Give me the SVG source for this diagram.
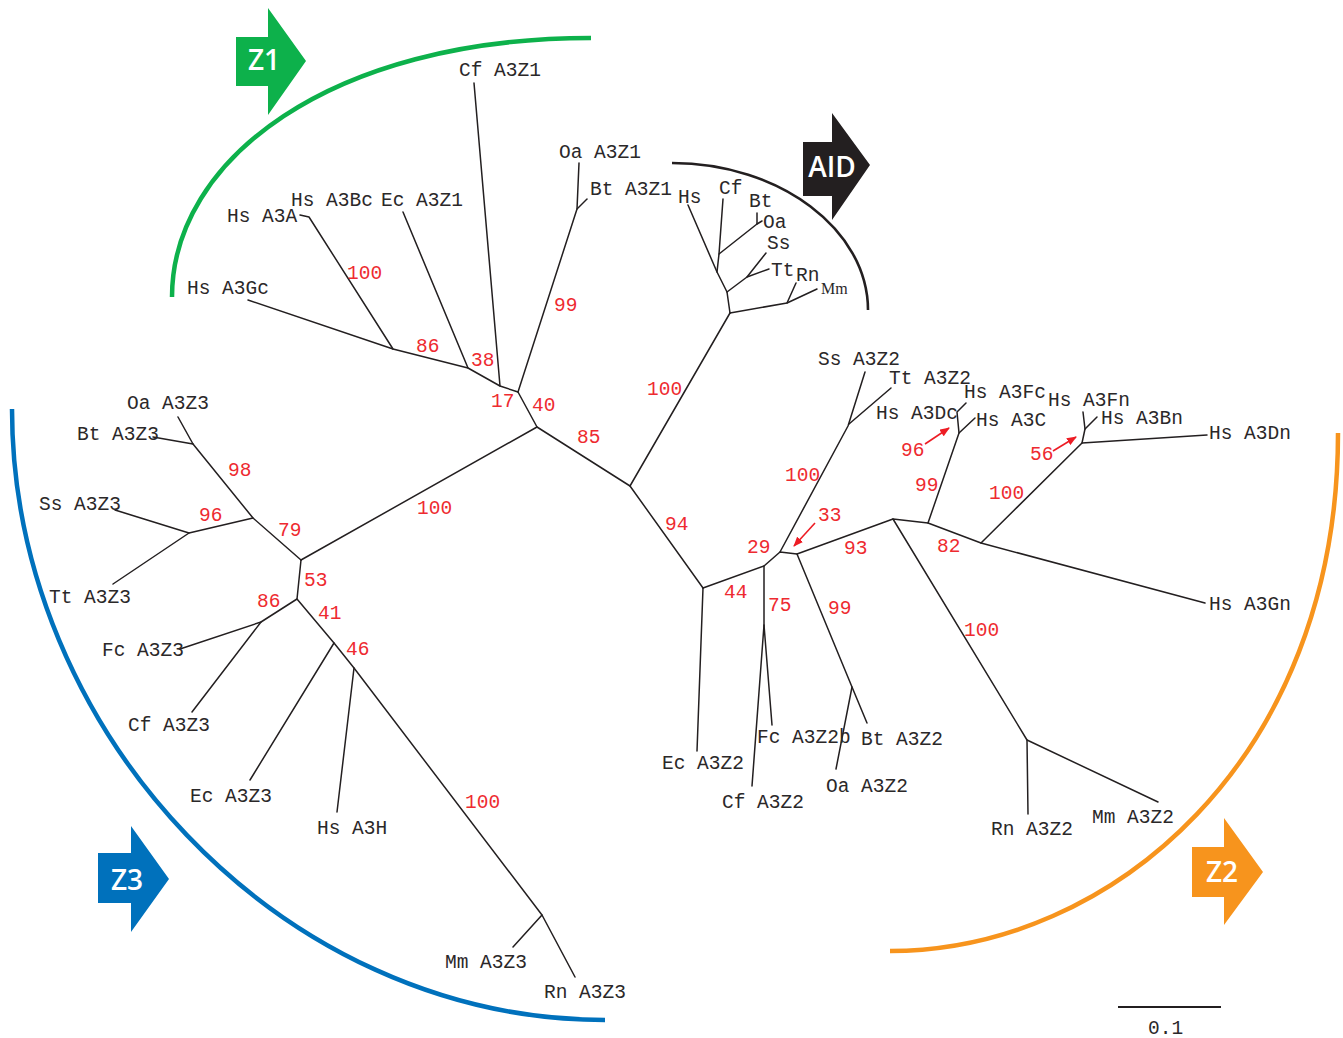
<svg xmlns="http://www.w3.org/2000/svg" width="1343" height="1038" viewBox="0 0 1343 1038">
<defs>
<style>
.br{fill:none;stroke:#231f20;stroke-width:1.5;stroke-linecap:round;stroke-linejoin:round}
.lb{font-family:"Liberation Mono",monospace;font-size:19.5px;fill:#2b2829}
.bs{font-family:"Liberation Mono",monospace;font-size:19.5px;fill:#ee2a30}
.zt{font-family:"Open Sans","Liberation Sans",sans-serif;font-size:28px;font-weight:600;fill:#ffffff;text-anchor:middle}
.arc{fill:none;stroke-width:4.5;stroke-linecap:butt}
.ra{stroke:#ed1c24;stroke-width:1.6;fill:none;marker-end:url(#ah)}
</style>
<marker id="ah" viewBox="0 0 10 8" refX="9" refY="4" markerWidth="10" markerHeight="8" markerUnits="userSpaceOnUse" orient="auto">
<path d="M0,0 L10,4 L0,8 Z" fill="#ed1c24"/>
</marker>
</defs>
<rect width="1343" height="1038" fill="#ffffff"/>

<g id="group-arcs">
<path class="arc" stroke="#0db14b" d="M172,297 C172,160 330,38 591,38"/>
<path class="arc" stroke="#0071bc" d="M12,409 C12,730 280,1020 605,1020"/>
<path class="arc" stroke="#f7941d" d="M1338,433 C1338,760 1110,951 890,951"/>
<path fill="none" stroke="#231f20" stroke-width="2.6" d="M672,163 C780,163 868,230 868,310"/>
</g>

<g id="arrow-Z1">
<polygon fill="#0db14b" points="236,37 268,37 268,8 306,61 268,115 268,86 236,86"/>
<text class="zt" x="264" y="70">Z1</text>
</g>
<g id="arrow-Z3">
<polygon fill="#0071bc" points="98,853 131,853 131,826 169,879 131,932 131,903 98,903"/>
<text class="zt" x="127" y="890">Z3</text>
</g>
<g id="arrow-AID">
<polygon fill="#231f20" points="803,142 832,142 832,113 870,165 832,220 832,196 803,196"/>
<text class="zt" x="832" y="177">AID</text>
</g>
<g id="arrow-Z2">
<polygon fill="#f7941d" points="1192,847 1224,847 1224,818 1263,872 1224,925 1224,897 1192,897"/>
<text class="zt" x="1222" y="882">Z2</text>
</g>

<g id="connectors">
<path class="br" d="M537,427 L518,392 L500,386 L468,368 L393,349 L248,300"/>
<path class="br" d="M393,349 L309,217 L300,215"/>
<path class="br" d="M468,368 L403,212"/>
<path class="br" d="M500,386 L474,83"/>
<path class="br" d="M518,392 L577,209 L579,163"/>
<path class="br" d="M577,209 L587,199"/>
<path class="br" d="M301,560 L537,427 L630,486 L730,313"/>
<path class="br" d="M630,486 L703,588"/>
<path class="br" d="M730,313 L727,292 L717,272 L688,205"/>
<path class="br" d="M730,313 L787,303 L796,283"/>
<path class="br" d="M787,303 L817,289"/>
<path class="br" d="M727,292 L747,277 L766,253"/>
<path class="br" d="M747,277 L769,269"/>
<path class="br" d="M717,272 L719,254 L723,199"/>
<path class="br" d="M719,254 L757,224 L757,213"/>
<path class="br" d="M757,224 L762,221"/>
<path class="br" d="M703,588 L697,751"/>
<path class="br" d="M703,588 L764,566 L780,552 L797,554 L893,519 L928,523 L981,543 L1205,603"/>
<path class="br" d="M764,566 L764,625 L752,786"/>
<path class="br" d="M764,625 L772,725"/>
<path class="br" d="M780,552 L848,426 L865,372"/>
<path class="br" d="M849,424 L891,388"/>
<path class="br" d="M797,554 L852,687 L836,769"/>
<path class="br" d="M852,687 L867,723"/>
<path class="br" d="M893,519 L1027,740 L1028,814"/>
<path class="br" d="M1027,740 L1158,802"/>
<path class="br" d="M928,523 L959,433 L957,412 L966,403"/>
<path class="br" d="M959,433 L975,418"/>
<path class="br" d="M981,543 L1082,443 L1207,435"/>
<path class="br" d="M1082,443 L1085,429 L1083,412"/>
<path class="br" d="M1085,429 L1097,417"/>
<path class="br" d="M301,560 L253,518 L193,444 L178,417"/>
<path class="br" d="M193,444 L153,437"/>
<path class="br" d="M253,518 L189,533 L115,510"/>
<path class="br" d="M189,533 L113,584"/>
<path class="br" d="M301,560 L297,599 L261,622 L180,649"/>
<path class="br" d="M261,622 L192,712"/>
<path class="br" d="M297,599 L334,643 L250,780"/>
<path class="br" d="M334,643 L354,668 L337,812"/>
<path class="br" d="M354,668 L542,915 L513,947"/>
<path class="br" d="M542,915 L575,977"/>
<path class="ra" d="M815,523 L794,546"/>
<path class="ra" d="M925,444 L949,428"/>
<path class="ra" d="M1053,451 L1076,437"/>
<path d="M1118,1007 L1221,1007" stroke="#231f20" stroke-width="2"/>
</g>

<g id="leaf-labels">
<g id="n-cf-a3z1"><text class="lb" x="459" y="76">Cf A3Z1</text></g>
<g id="n-oa-a3z1"><text class="lb" x="559" y="158">Oa A3Z1</text></g>
<g id="n-bt-a3z1"><text class="lb" x="590" y="195">Bt A3Z1</text></g>
<g id="n-hs-a3bc"><text class="lb" x="291" y="206">Hs A3Bc</text></g>
<g id="n-ec-a3z1"><text class="lb" x="381" y="206">Ec A3Z1</text></g>
<g id="n-hs-a3a"><text class="lb" x="227" y="222">Hs A3A</text></g>
<g id="n-hs-a3gc"><text class="lb" x="187" y="294">Hs A3Gc</text></g>
<g id="n-aid-hs"><text class="lb" x="678" y="203">Hs</text></g>
<g id="n-aid-cf"><text class="lb" x="719" y="194">Cf</text></g>
<g id="n-aid-bt"><text class="lb" x="749" y="207">Bt</text></g>
<g id="n-aid-oa"><text class="lb" x="763" y="228">Oa</text></g>
<g id="n-aid-ss"><text class="lb" x="767" y="249">Ss</text></g>
<g id="n-aid-tt"><text class="lb" x="771" y="276">Tt</text></g>
<g id="n-aid-rn"><text class="lb" x="796" y="281">Rn</text></g>
<g id="n-aid-mm"><text x="821" y="294" font-family="Liberation Serif,serif" font-size="16" fill="#2b2829">Mm</text></g>
<g id="n-ss-a3z2"><text class="lb" x="818" y="365">Ss A3Z2</text></g>
<g id="n-tt-a3z2"><text class="lb" x="889" y="384">Tt A3Z2</text></g>
<g id="n-hs-a3dc"><text class="lb" x="876" y="419">Hs A3Dc</text></g>
<g id="n-hs-a3fc"><text class="lb" x="964" y="398">Hs A3Fc</text></g>
<g id="n-hs-a3c"><text class="lb" x="976" y="426">Hs A3C</text></g>
<g id="n-hs-a3fn"><text class="lb" x="1048" y="406">Hs A3Fn</text></g>
<g id="n-hs-a3bn"><text class="lb" x="1101" y="424">Hs A3Bn</text></g>
<g id="n-hs-a3dn"><text class="lb" x="1209" y="439">Hs A3Dn</text></g>
<g id="n-hs-a3gn"><text class="lb" x="1209" y="610">Hs A3Gn</text></g>
<g id="n-rn-a3z2"><text class="lb" x="991" y="835">Rn A3Z2</text></g>
<g id="n-mm-a3z2"><text class="lb" x="1092" y="823">Mm A3Z2</text></g>
<g id="n-bt-a3z2"><text class="lb" x="861" y="745">Bt A3Z2</text></g>
<g id="n-oa-a3z2"><text class="lb" x="826" y="792">Oa A3Z2</text></g>
<g id="n-fc-a3z2b"><text class="lb" x="757" y="743">Fc A3Z2b</text></g>
<g id="n-cf-a3z2"><text class="lb" x="722" y="808">Cf A3Z2</text></g>
<g id="n-ec-a3z2"><text class="lb" x="662" y="769">Ec A3Z2</text></g>
<g id="n-oa-a3z3"><text class="lb" x="127" y="409">Oa A3Z3</text></g>
<g id="n-bt-a3z3"><text class="lb" x="77" y="440">Bt A3Z3</text></g>
<g id="n-ss-a3z3"><text class="lb" x="39" y="510">Ss A3Z3</text></g>
<g id="n-tt-a3z3"><text class="lb" x="49" y="603">Tt A3Z3</text></g>
<g id="n-fc-a3z3"><text class="lb" x="102" y="656">Fc A3Z3</text></g>
<g id="n-cf-a3z3"><text class="lb" x="128" y="731">Cf A3Z3</text></g>
<g id="n-ec-a3z3"><text class="lb" x="190" y="802">Ec A3Z3</text></g>
<g id="n-hs-a3h"><text class="lb" x="317" y="834">Hs A3H</text></g>
<g id="n-mm-a3z3"><text class="lb" x="445" y="968">Mm A3Z3</text></g>
<g id="n-rn-a3z3"><text class="lb" x="544" y="998">Rn A3Z3</text></g>
<g id="scale-label"><text class="lb" x="1148" y="1034">0.1</text></g>
</g>

<g id="support-values">
<text class="bs" x="347" y="279">100</text>
<text class="bs" x="416" y="352">86</text>
<text class="bs" x="471" y="366">38</text>
<text class="bs" x="491" y="407">17</text>
<text class="bs" x="532" y="411">40</text>
<text class="bs" x="554" y="311">99</text>
<text class="bs" x="647" y="395">100</text>
<text class="bs" x="577" y="443">85</text>
<text class="bs" x="417" y="514">100</text>
<text class="bs" x="228" y="476">98</text>
<text class="bs" x="278" y="536">79</text>
<text class="bs" x="199" y="521">96</text>
<text class="bs" x="304" y="586">53</text>
<text class="bs" x="257" y="607">86</text>
<text class="bs" x="318" y="619">41</text>
<text class="bs" x="346" y="655">46</text>
<text class="bs" x="465" y="808">100</text>
<text class="bs" x="665" y="530">94</text>
<text class="bs" x="724" y="598">44</text>
<text class="bs" x="747" y="553">29</text>
<text class="bs" x="768" y="611">75</text>
<text class="bs" x="828" y="614">99</text>
<text class="bs" x="818" y="521">33</text>
<text class="bs" x="844" y="554">93</text>
<text class="bs" x="937" y="552">82</text>
<text class="bs" x="785" y="481">100</text>
<text class="bs" x="901" y="456">96</text>
<text class="bs" x="915" y="491">99</text>
<text class="bs" x="989" y="499">100</text>
<text class="bs" x="1030" y="460">56</text>
<text class="bs" x="964" y="636">100</text>
</g>
</svg>
